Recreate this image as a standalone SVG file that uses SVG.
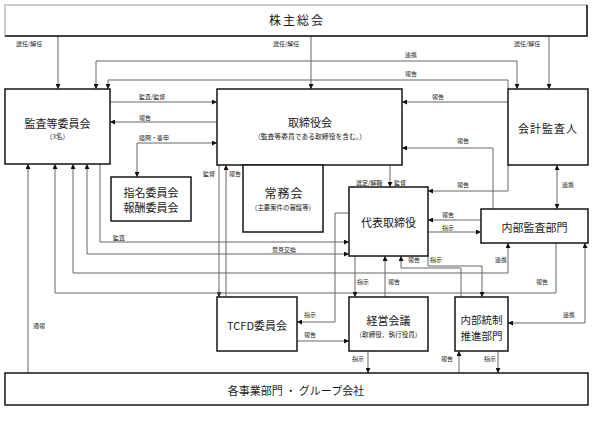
<svg xmlns="http://www.w3.org/2000/svg" width="593" height="422" viewBox="0 0 593 422">
<style>
.box{fill:#fff;stroke:#151515;stroke-width:1.5}
.t{font-family:"Noto Sans CJK JP","Noto Sans",sans-serif;fill:#1a1a1a;text-anchor:middle}
.big{font-size:11px}
.sub{font-size:6.6px}
.lb{font-family:"Noto Sans CJK JP","Noto Sans",sans-serif;font-size:6px;fill:#222}
.c{fill:none;stroke:#666;stroke-width:1}
.a{marker-end:url(#ah)}
.b{marker-start:url(#ah);marker-end:url(#ah)}
</style>
<defs>
<marker id="ah" markerUnits="userSpaceOnUse" markerWidth="5" markerHeight="5" refX="5" refY="2.5" orient="auto-start-reverse">
<path d="M0,0 L5,2.5 L0,5 z" fill="#111"/>
</marker>
</defs>
<rect width="593" height="422" fill="#fff"/>

<g id="connectors">
<path class="c a" d="M58,36 V89"/>
<path class="c a" d="M311,36 V89"/>
<path class="c a" d="M549,36 V89"/>
<path class="c b" d="M96,89 V61 H517 V89"/>
<path class="c a" d="M508,89 V80 H108 V89"/>
<path class="c a" d="M110,102 H217"/>
<path class="c a" d="M217,122 H110"/>
<path class="c a" d="M508,102 H402"/>
<path class="c b" d="M217,143 H137 V177"/>
<path class="c a" d="M493,209 V148 H402"/>
<path class="c a" d="M508,165 V191 H428"/>
<path class="c b" d="M557,165 V209"/>
<path class="c a" d="M390,165 V187"/>
<path class="c a" d="M481,220 H428"/>
<path class="c a" d="M428,232 H481"/>
<path class="c a" d="M219,165 V297"/>
<path class="c a" d="M226,297 V165"/>
<path class="c a" d="M100,164 V242 H349"/>
<path class="c b" d="M87,164 V254 H349"/>
<path class="c b" d="M73,164 V273 H508 V243"/>
<path class="c a" d="M556,243 V293 H55 V164"/>
<path class="c a" d="M28,373 V164"/>
<path class="c a" d="M349,213 H335 V322 H297"/>
<path class="c a" d="M297,341 H349"/>
<path class="c a" d="M355,256 V297"/>
<path class="c a" d="M385,297 V256"/>
<path class="c a" d="M461,297 V268 H401 V256"/>
<path class="c a" d="M428,256 V266 H482 V297"/>
<path class="c b" d="M585,243 V323 H508"/>
<path class="c a" d="M368,351 V373"/>
<path class="c a" d="M459,373 V351"/>
<path class="c a" d="M498,351 V373"/>
</g>

<g id="labels">
<text class="lb" x="16" y="46">選任/解任</text>
<text class="lb" x="273" y="46">選任/解任</text>
<text class="lb" x="514" y="46">選任/解任</text>
<text class="lb" x="405" y="57">連携</text>
<text class="lb" x="405" y="76">報告</text>
<text class="lb" x="139" y="99">監査/監督</text>
<text class="lb" x="432" y="99">報告</text>
<text class="lb" x="139" y="120">報告</text>
<text class="lb" x="139" y="140">諮問・答申</text>
<text class="lb" x="457" y="143">報告</text>
<text class="lb" x="203" y="176">監督</text>
<text class="lb" x="229" y="176">報告</text>
<text class="lb" x="356" y="185">選定/解職</text>
<text class="lb" x="394" y="185">監督</text>
<text class="lb" x="457" y="187">報告</text>
<text class="lb" x="562" y="187">連携</text>
<text class="lb" x="442" y="217">報告</text>
<text class="lb" x="442" y="230">指示</text>
<text class="lb" x="113" y="240">監査</text>
<text class="lb" x="272" y="252">意見交換</text>
<text class="lb" x="408" y="262">報告</text>
<text class="lb" x="430" y="262">指示</text>
<text class="lb" x="495" y="262">連携</text>
<text class="lb" x="357" y="284">指示</text>
<text class="lb" x="388" y="284">報告</text>
<text class="lb" x="536" y="284">報告</text>
<text class="lb" x="304" y="317">指示</text>
<text class="lb" x="563" y="317">連携</text>
<text class="lb" x="33" y="328">通報</text>
<text class="lb" x="304" y="337">報告</text>
<text class="lb" x="352" y="361">指示</text>
<text class="lb" x="441" y="361">報告</text>
<text class="lb" x="484" y="361">指示</text>
</g>

<g id="shareholders">
<rect x="5" y="5" width="582" height="31" fill="#fff" stroke="#999" stroke-width="1"/>
<path d="M5,36 H587 V5" fill="none" stroke="#151515" stroke-width="1.5"/>
<text class="t" x="297" y="25" font-size="12" letter-spacing="2">株主総会</text>
</g>

<g id="audit-committee">
<rect class="box" x="5" y="89" width="105" height="75"/>
<text class="t big" x="57.5" y="127.5">監査等委員会</text>
<text class="t sub" x="57.5" y="139">（3名）</text>
</g>

<g id="board">
<rect class="box" x="217" y="89" width="185" height="76"/>
<text class="t big" x="310" y="127">取締役会</text>
<text class="t" x="310" y="138.5" font-size="6.8">（監査等委員である取締役を含む。）</text>
</g>

<g id="auditor">
<rect class="box" x="508" y="89" width="80" height="76"/>
<text class="t big" x="548" y="133" letter-spacing="1">会計監査人</text>
</g>

<g id="nomination">
<rect class="box" x="111" y="177" width="80" height="44"/>
<text class="t big" x="151" y="197">指名委員会</text>
<text class="t big" x="151" y="212">報酬委員会</text>
</g>

<g id="executive-committee">
<rect class="box" x="243" y="165" width="80" height="67"/>
<text class="t" x="284" y="198" font-size="12" letter-spacing="1">常務会</text>
<text class="t" x="283" y="209.5" font-size="6.4">（主要案件の審議等）</text>
</g>

<g id="representative">
<rect class="box" x="349" y="187" width="79" height="69"/>
<text class="t big" x="388.5" y="227">代表取締役</text>
</g>

<g id="internal-audit">
<rect class="box" x="481" y="209" width="107" height="34"/>
<text class="t big" x="534.5" y="232">内部監査部門</text>
</g>

<g id="tcfd">
<rect class="box" x="217" y="297" width="80" height="54"/>
<text class="t big" x="257" y="330">TCFD委員会</text>
</g>

<g id="management-meeting">
<rect class="box" x="349" y="297" width="79" height="54"/>
<text class="t big" x="388.5" y="325">経営会議</text>
<text class="t sub" x="388.5" y="336.5">（取締役、執行役員）</text>
</g>

<g id="internal-control">
<rect class="box" x="455" y="297" width="53" height="54"/>
<text class="t" x="481.5" y="323.5" font-size="10.5">内部統制</text>
<text class="t" x="481.5" y="339.5" font-size="10.5">推進部門</text>
</g>

<g id="business-units">
<rect class="box" x="5" y="373" width="583" height="32"/>
<text class="t big" x="296" y="395">各事業部門 ・ グループ会社</text>
</g>
</svg>
